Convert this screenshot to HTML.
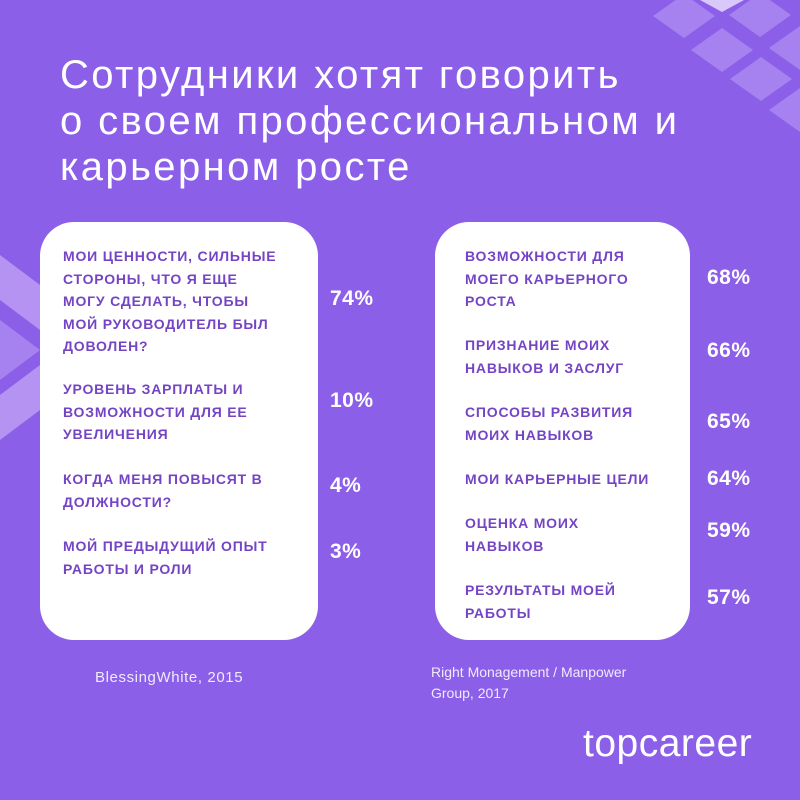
<!DOCTYPE html>
<html><head><meta charset="utf-8"><style>
body{margin:0;width:800px;height:800px;overflow:hidden;background:#8c5fe8;font-family:"Liberation Sans","DejaVu Sans",sans-serif;position:relative}
.card{position:absolute;background:#fff;border-radius:34px}
.t{position:absolute;color:#7444c4;font-weight:bold;font-size:14px;line-height:22.5px;letter-spacing:0.8px;white-space:nowrap}
.p{position:absolute;color:#fff;font-weight:bold;font-size:21px;line-height:22px;letter-spacing:0.5px}
.src{position:absolute;color:#f1eafe;font-size:14px;line-height:21px}
#title{position:absolute;left:60px;top:52px;color:#fff;font-size:40px;line-height:46px;letter-spacing:2.4px;white-space:nowrap}
</style></head><body>
<svg width="800" height="800" style="position:absolute;left:0;top:0">
<g fill="#a582f0">
<polygon points="653,16 684,-6 715,16 684,38"/>
<polygon points="691,50 722,28 753,50 722,72"/>
<polygon points="730,79 761,57 792,79 761,101"/>
<polygon points="769,110 800,88 831,110 800,132"/>
<polygon points="729,15 760,-7 791,15 760,37"/>
<polygon points="769,48 800,26 831,48 800,70"/>
</g>
<polygon points="700,0 744,0 722,12" fill="#d9c9fa"/>
<polygon points="0,255 40,285 40,330 0,300" fill="#b493f3"/>
<polygon points="0,320 40,350 0,380" fill="#a582f0"/>
<polygon points="0,395 40,365 40,410 0,440" fill="#b493f3"/>
</svg>
<div id="title">Сотрудники хотят говорить<br>о своем профессиональном и<br>карьерном росте</div>
<div class="card" style="left:40px;top:222px;width:278px;height:418px"></div>
<div class="card" style="left:435px;top:222px;width:255px;height:418px"></div>
<div class="t" style="left:63px;top:245px">МОИ ЦЕННОСТИ, СИЛЬНЫЕ<br>СТОРОНЫ, ЧТО Я ЕЩЕ<br>МОГУ СДЕЛАТЬ, ЧТОБЫ<br>МОЙ РУКОВОДИТЕЛЬ БЫЛ<br>ДОВОЛЕН?</div>
<div class="t" style="left:63px;top:378px">УРОВЕНЬ ЗАРПЛАТЫ И<br>ВОЗМОЖНОСТИ ДЛЯ ЕЕ<br>УВЕЛИЧЕНИЯ</div>
<div class="t" style="left:63px;top:468px">КОГДА МЕНЯ ПОВЫСЯТ В<br>ДОЛЖНОСТИ?</div>
<div class="t" style="left:63px;top:535px">МОЙ ПРЕДЫДУЩИЙ ОПЫТ<br>РАБОТЫ И РОЛИ</div>
<div class="p" style="left:330px;top:288px">74%</div>
<div class="p" style="left:330px;top:390px">10%</div>
<div class="p" style="left:330px;top:475px">4%</div>
<div class="p" style="left:330px;top:541px">3%</div>
<div class="t" style="left:465px;top:245px">ВОЗМОЖНОСТИ ДЛЯ<br>МОЕГО КАРЬЕРНОГО<br>РОСТА</div>
<div class="t" style="left:465px;top:334px">ПРИЗНАНИЕ МОИХ<br>НАВЫКОВ И ЗАСЛУГ</div>
<div class="t" style="left:465px;top:401px">СПОСОБЫ РАЗВИТИЯ<br>МОИХ НАВЫКОВ</div>
<div class="t" style="left:465px;top:468px">МОИ КАРЬЕРНЫЕ ЦЕЛИ</div>
<div class="t" style="left:465px;top:512px">ОЦЕНКА МОИХ<br>НАВЫКОВ</div>
<div class="t" style="left:465px;top:579px">РЕЗУЛЬТАТЫ МОЕЙ<br>РАБОТЫ</div>
<div class="p" style="left:707px;top:267px">68%</div>
<div class="p" style="left:707px;top:340px">66%</div>
<div class="p" style="left:707px;top:411px">65%</div>
<div class="p" style="left:707px;top:468px">64%</div>
<div class="p" style="left:707px;top:520px">59%</div>
<div class="p" style="left:707px;top:587px">57%</div>
<div class="src" style="left:95px;top:667px;font-size:15px;letter-spacing:0.6px">BlessingWhite, 2015</div>
<div class="src" style="left:431px;top:662px">Right Monagement / Manpower<br>Group, 2017</div>
<div style="position:absolute;left:583px;top:722px;color:#fff;font-size:39px;line-height:44px;letter-spacing:0.5px">topcareer</div>
</body></html>
